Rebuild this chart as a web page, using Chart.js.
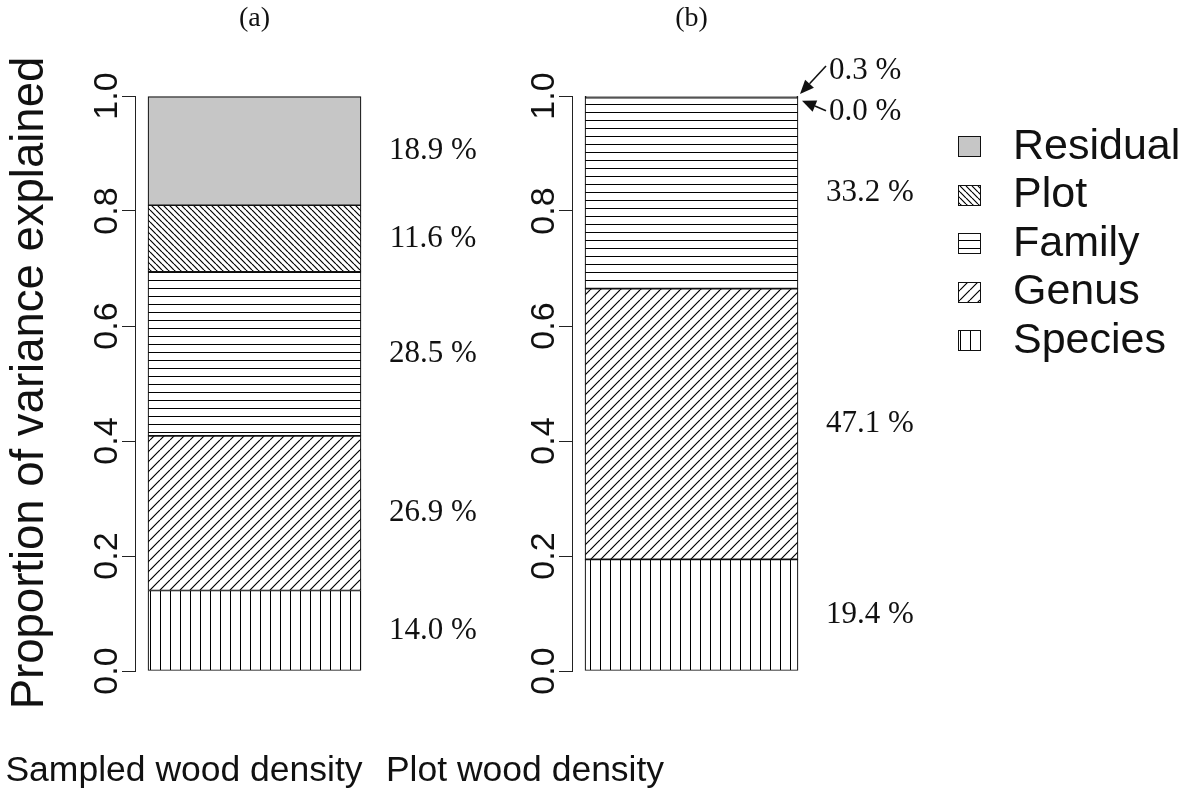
<!DOCTYPE html>
<html>
<head>
<meta charset="utf-8">
<script src="https://cdn.jsdelivr.net/npm/chart.js@4"></script>
<style>
  html, body { margin: 0; padding: 0; background: #ffffff; }
  #wrap { position: relative; width: 1199px; height: 803px; background: #ffffff; }
  canvas { position: absolute; left: 0; top: 0; }
</style>
</head>
<body>
<div id="wrap">
  <canvas id="chartA" width="1199" height="803"></canvas>
  <canvas id="chartB" width="1199" height="803"></canvas>
</div>
<script>
// ---------------- data ----------------
const categories = ['Sampled wood density', 'Plot wood density'];
const panelTitles = ['(a)', '(b)'];
const components = ['Species', 'Genus', 'Family', 'Plot', 'Residual'];
const sampledPct = [14.0, 26.9, 28.5, 11.6, 18.9];
const plotPct = [19.4, 47.1, 33.2, 0.0, 0.3];
const yTicks = [0.0, 0.2, 0.4, 0.6, 0.8, 1.0];
const yTitle = 'Proportion of variance explained';

// ---------------- styling ----------------
const W = 1199, H = 803;
const SANS = "'Liberation Sans', Arial, Helvetica, sans-serif";
const SERIF = "'Liberation Serif', 'Times New Roman', serif";
const INK = '#111111';

function makeFill(kind) {
  if (kind === 'Residual') return '#c6c6c6';
  const c = document.createElement('canvas');
  let s = 8;
  if (kind === 'Plot') s = 6;
  if (kind === 'Genus') s = 10;
  if (kind === 'Family') s = 8;
  if (kind === 'Species') s = 10;
  c.width = s; c.height = s;
  const g = c.getContext('2d');
  g.fillStyle = '#ffffff';
  g.fillRect(0, 0, s, s);
  g.strokeStyle = '#000000';
  g.lineWidth = (kind === 'Plot' || kind === 'Genus') ? 1.2 : 1;
  g.beginPath();
  if (kind === 'Plot') {
    for (const o of [-s, 0, s]) { g.moveTo(o, 0); g.lineTo(o + s, s); }
  } else if (kind === 'Genus') {
    for (const o of [-s, 0, s]) { g.moveTo(o, s); g.lineTo(o + s, 0); }
  } else if (kind === 'Family') {
    g.moveTo(0, 0.5); g.lineTo(s, 0.5);
  } else if (kind === 'Species') {
    g.moveTo(0.5, 0); g.lineTo(0.5, s);
  }
  g.stroke();
  return g.createPattern(c, 'repeat');
}
const fills = components.map(makeFill);

function arrow(ctx, x1, y1, x2, y2) {
  const ang = Math.atan2(y2 - y1, x2 - x1);
  const hl = 14, hw = 6;
  const bx = x2 - hl * Math.cos(ang), by = y2 - hl * Math.sin(ang);
  ctx.beginPath();
  ctx.moveTo(x1, y1); ctx.lineTo(bx, by);
  ctx.strokeStyle = INK; ctx.lineWidth = 1.6; ctx.stroke();
  ctx.beginPath();
  ctx.moveTo(x2, y2);
  ctx.lineTo(bx + hw * Math.sin(ang), by - hw * Math.cos(ang));
  ctx.lineTo(bx - hw * Math.sin(ang), by + hw * Math.cos(ang));
  ctx.closePath();
  ctx.fillStyle = INK; ctx.fill();
}

const annotate = {
  id: 'annotate',
  afterDraw(chart) {
    const o = chart.options.plugins.annotate;
    const ctx = chart.ctx;
    const ys = chart.scales.y;
    const area = chart.chartArea;
    const bar = chart.getDatasetMeta(0).data[0];
    const barCx = bar.x;
    const barRight = bar.x + bar.width / 2;
    const vals = chart.data.datasets.map(d => d.data[0]);

    ctx.save();
    ctx.fillStyle = INK;

    // y tick labels (rotated, R style)
    ctx.font = '34px ' + SANS;
    ctx.textAlign = 'center';
    ctx.textBaseline = 'middle';
    yTicks.forEach(v => {
      const py = ys.getPixelForValue(v);
      ctx.save();
      ctx.translate(area.left - 27, py);
      ctx.rotate(-Math.PI / 2);
      ctx.fillText(v.toFixed(1), 0, 0);
      ctx.restore();
    });

    // y title
    if (o.showYTitle) {
      ctx.save();
      ctx.font = '45.5px ' + SANS;
      ctx.translate(30, 383);
      ctx.rotate(-Math.PI / 2);
      ctx.fillText(yTitle, 0, 0);
      ctx.restore();
    }

    // panel title
    ctx.font = '28px ' + SERIF;
    ctx.fillText(o.title, barCx, 19);

    // x label
    ctx.font = '35.5px ' + SANS;
    ctx.fillText(chart.data.labels[0], o.xLabelX, 771);

    // percentage labels
    ctx.font = '31px ' + SERIF;
    let cum = 0;
    vals.forEach((v, i) => {
      const lo = cum; cum += v;
      const txt = (v * 100).toFixed(1) + ' %';
      if (v >= 0.02) {
        const py = ys.getPixelForValue((lo + cum) / 2);
        ctx.textAlign = 'center';
        ctx.fillText(txt, barRight + 72, py);
      } else {
        // callout for tiny components
        const isTop = i === vals.length - 1;
        const targetY = ys.getPixelForValue(cum);
        const ty = isTop ? targetY - 25 : targetY + 14;
        const tx = barRight + 31;
        ctx.textAlign = 'left';
        ctx.fillText(txt, tx, ty);
        if (isTop) arrow(ctx, tx - 3, ty - 5, barRight + 2, targetY - 2);
        else arrow(ctx, tx - 3, ty - 1, barRight + 4, targetY + 3);
      }
    });

    // legend
    if (o.showLegend) {
      ctx.font = '43px ' + SANS;
      ctx.textAlign = 'left';
      const ds = chart.data.datasets.slice().reverse();
      ds.forEach((d, k) => {
        const cy = 146 + k * 48.5;
        const bx = 958, bw = 22, bh = 20;
        const top = Math.round(cy - bh / 2);
        ctx.fillStyle = d.backgroundColor;
        ctx.fillRect(bx, top, bw, bh);
        ctx.strokeStyle = INK;
        ctx.lineWidth = 1;
        ctx.strokeRect(bx + 0.5, top + 0.5, bw, bh);
        ctx.fillStyle = INK;
        ctx.fillText(d.label, 1013, cy + 1);
      });
    }
    ctx.restore();
  }
};

function panelChart(id, pct, cfg) {
  return new Chart(document.getElementById(id), {
    type: 'bar',
    data: {
      labels: [cfg.category],
      datasets: components.map((name, i) => ({
        label: name,
        data: [pct[i] / 100],
        backgroundColor: fills[i],
        borderColor: INK,
        borderWidth: 1.2,
        borderSkipped: false,
        barThickness: 213,
        stack: 'total'
      }))
    },
    options: {
      responsive: false,
      devicePixelRatio: 1,
      animation: false,
      events: [],
      layout: { padding: { left: cfg.axisX - 13, right: W - cfg.plotRight, top: 96, bottom: H - 671 } },
      plugins: {
        legend: { display: false },
        tooltip: { enabled: false },
        annotate: { title: cfg.title, xLabelX: cfg.xLabelX, showYTitle: cfg.showYTitle, showLegend: cfg.showLegend }
      },
      scales: {
        x: { display: false, stacked: true },
        y: {
          stacked: true, min: 0, max: 1,
          afterBuildTicks: s => { s.ticks = yTicks.map(v => ({ value: v })); },
          afterFit: s => { s.width = 13; },
          ticks: { display: false },
          grid: { drawOnChartArea: false, drawTicks: true, tickLength: 13, color: '#222222', lineWidth: 1 },
          border: { display: true, color: '#222222', width: 1 }
        }
      }
    },
    plugins: [annotate]
  });
}

panelChart('chartA', sampledPct, { category: categories[0], title: panelTitles[0], axisX: 135, plotRight: 374, xLabelX: 184, showYTitle: true, showLegend: false });
panelChart('chartB', plotPct, { category: categories[1], title: panelTitles[1], axisX: 572, plotRight: 811, xLabelX: 525, showYTitle: false, showLegend: true });
</script>
</body>
</html>
